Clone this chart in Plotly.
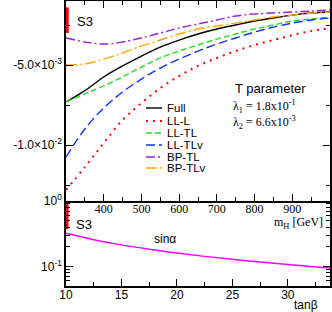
import plotly.graph_objects as go

# ---------------- data ----------------
mH = [300, 350, 400, 450, 500, 550, 600, 650, 700, 750, 800, 850, 900, 950, 1000]
# T parameter values (x 1e-3)
full    = [-7.31, -6.60, -5.75, -5.06, -4.44, -3.88, -3.44, -3.06, -2.75, -2.50, -2.25, -2.06, -1.88, -1.75, -1.69]
ll_l    = [-12.81, -11.38, -9.88, -8.44, -7.38, -6.44, -5.69, -5.06, -4.56, -4.13, -3.75, -3.44, -3.13, -2.88, -2.69]
ll_tl   = [-7.31, -6.81, -6.31, -5.75, -5.13, -4.56, -4.13, -3.75, -3.38, -3.06, -2.75, -2.50, -2.25, -2.13, -2.00]
ll_tlv  = [-10.75, -9.00, -7.69, -6.69, -5.88, -5.19, -4.63, -4.13, -3.69, -3.31, -2.94, -2.63, -2.38, -2.19, -2.06]
bp_tl   = [-3.31, -3.56, -3.69, -3.56, -3.31, -3.00, -2.69, -2.44, -2.19, -1.94, -1.81, -1.75, -1.69, -1.63, -1.56]
bp_tlv  = [-5.00, -4.94, -4.63, -4.25, -3.81, -3.44, -3.06, -2.75, -2.56, -2.38, -2.19, -2.00, -1.88, -1.75, -1.69]

series_names = ["Full", "LL-L", "LL-TL", "LL-TLv", "BP-TL", "BP-TLv"]
series_vals = [full, ll_l, ll_tl, ll_tlv, bp_tl, bp_tlv]
series_colors = ["#000000", "#ff0000", "#22dd22", "#1030ff", "#9a20d8", "#ffa500"]
series_dash = ["solid", "2px,5px", "6px,3px", "9px,4px", "9px,3px,2px,3px", "11px,3px,2px,3px"]
series_width = [1.4, 2.0, 1.4, 1.4, 1.4, 1.4]

# S3 range bars
s3_top_mH = [302, 302]
s3_top_T = [-1.4, -3.0]          # x 1e-3
s3_bot_tb = [10.05, 10.05]
s3_bot_sin = [1.0, 0.37]

tanb = [10, 12.5, 15, 17.5, 20, 22.5, 25, 27.5, 30, 32.5, 33.8]
sina = [0.32, 0.256, 0.213, 0.183, 0.160, 0.142, 0.128, 0.116, 0.107, 0.098, 0.095]

mH_ticks = [400, 500, 600, 700, 800, 900]
tb_ticks = [10, 15, 20, 25, 30]
T_ticks = [-5e-3, -1e-2]
T_ticktext = ["-5.0\u00d710<sup>-3</sup>", "-1.0\u00d710<sup>-2</sup>"]

# ---------------- figure ----------------
fig = go.Figure()
SANS = "Liberation Sans, Arial, sans-serif"
SERIF = "Liberation Serif, Times New Roman, serif"

for name, vals, c, d, w in zip(series_names, series_vals, series_colors, series_dash, series_width):
    fig.add_trace(go.Scatter(x=mH, y=[v * 1e-3 for v in vals], mode="lines", name=name,
                             line=dict(color=c, dash=d, width=w, shape="spline", smoothing=1.0),
                             xaxis="x2", yaxis="y2", showlegend=False, hoverinfo="skip"))

fig.add_trace(go.Scatter(x=s3_top_mH, y=[v * 1e-3 for v in s3_top_T], mode="lines",
                         line=dict(color="#ff0000", width=4), xaxis="x2", yaxis="y2", showlegend=False,
                         hoverinfo="skip"))

fig.add_trace(go.Scatter(x=tanb, y=sina, mode="lines", line=dict(color="#ff00ff", width=1.5, shape="spline"),
                         xaxis="x", yaxis="y", showlegend=False, hoverinfo="skip"))
fig.add_trace(go.Scatter(x=s3_bot_tb, y=s3_bot_sin, mode="lines", line=dict(color="#ff0000", width=4),
                         xaxis="x", yaxis="y", showlegend=False, hoverinfo="skip"))

split = 85 / 285

axis_common = dict(showline=True, linecolor="black", linewidth=1.5, ticks="inside", automargin=False,
                   tickcolor="black", tickwidth=1, showgrid=False, zeroline=False)

fig.update_layout(
    width=332, height=312,
    margin=dict(l=66, r=2, t=1, b=26),
    paper_bgcolor="white", plot_bgcolor="white",
    xaxis=dict(domain=[0, 1], anchor="y", range=[10, 33.8], tickvals=tb_ticks,
               ticklen=7, mirror=False, ticklabelstandoff=-3,
               minor=dict(tickvals=[12.5, 17.5, 22.5, 27.5, 32.5], ticklen=4, ticks="inside", tickcolor="black"),
               tickfont=dict(family=SANS, size=12, color="black"), **axis_common),
    yaxis=dict(domain=[0, split], anchor="x", type="log", range=[-1.30103, 0],
               tickvals=[1, 0.1], ticktext=["10<sup>0</sup>", "10<sup>-1</sup>"], ticklen=7, mirror="ticks",
               minor=dict(tickvals=[0.05, 0.06, 0.07, 0.08, 0.09, 0.2, 0.3, 0.4, 0.5, 0.6, 0.7, 0.8, 0.9],
                          ticklen=4, ticks="inside", tickcolor="black"),
               tickfont=dict(family=SANS, size=12, color="black"), **axis_common),
    xaxis2=dict(domain=[0, 1], anchor="y2", range=[300, 1000], tickvals=mH_ticks,
                ticklen=7, mirror="ticks", ticklabelstandoff=-4,
                minor=dict(tickvals=[350, 450, 550, 650, 750, 850, 950], ticklen=4, ticks="inside", tickcolor="black"),
                tickfont=dict(family=SERIF, size=12, color="black"), **axis_common),
    yaxis2=dict(domain=[split, 1], anchor="x2", range=[-0.0135, -0.001],
                tickvals=T_ticks, ticktext=T_ticktext, ticklen=7, mirror="ticks",
                minor=dict(tickvals=[-2.5e-3, -7.5e-3, -1.25e-2], ticklen=4, ticks="inside", tickcolor="black"),
                tickfont=dict(family=SANS, size=12, color="black"), **axis_common),
)

def px(xp):
    return (xp - 66) / 264

def py(yp):
    return (286 - yp) / 285

ann = []
def add_text(text, x, y, size=12, family=SANS, xanchor="left", pad=1):
    ann.append(dict(text=text, x=px(x), y=py(y), xref="paper", yref="paper", showarrow=False,
                    xanchor=xanchor, yanchor="middle", borderpad=pad,
                    font=dict(family=family, size=size, color="black")))

add_text("S3", 75, 21, size=13)
add_text("S3", 74, 224, size=13)
add_text("T parameter", 233, 89, size=13)
add_text("\u03bb<sub>1</sub> = 1.8x10<sup>-1</sup>", 232, 106, size=12, family=SERIF, pad=0)
add_text("\u03bb<sub>2</sub> = 6.6x10<sup>-3</sup>", 232, 122, size=12, family=SERIF, pad=0)
add_text("sin\u03b1", 152, 239, size=12)
add_text("m<sub>H</sub> [GeV]", 273, 223, size=12, family=SERIF, pad=0)
add_text("tan\u03b2", 293, 305, size=12, pad=0)

# legend drawn as line samples + labels
leg_y = [108, 121, 133, 145, 157, 168]
shapes = []
for name, c, d, w, yy in zip(series_names, series_colors, series_dash, series_width, leg_y):
    shapes.append(dict(type="line", xref="paper", yref="paper", x0=px(146), x1=px(162),
                       y0=py(yy), y1=py(yy), line=dict(color=c, dash=d, width=w)))
    add_text(name, 166, yy, size=11.5, pad=0)

fig.update_layout(annotations=ann, shapes=shapes)

fig.write_html("out.html", config={"displayModeBar": False},
               post_script="document.body.style.margin='0';")
